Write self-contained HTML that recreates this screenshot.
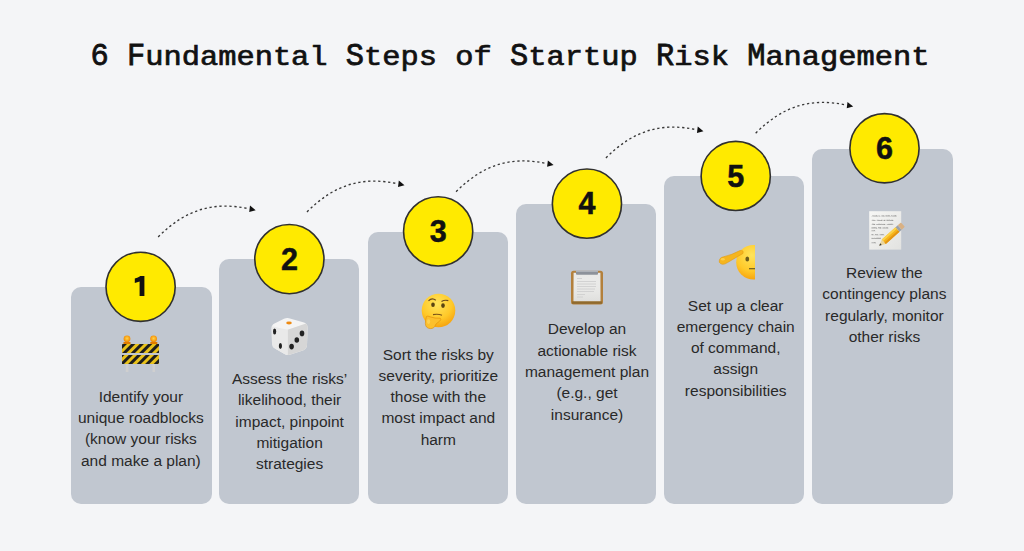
<!DOCTYPE html>
<html><head><meta charset="utf-8">
<style>
html,body{margin:0;padding:0}
body{width:1024px;height:551px;background:#f4f5f7;position:relative;overflow:hidden;font-family:"Liberation Sans",sans-serif}
.title{position:absolute;left:-2px;top:40.5px;width:1024px;text-align:center;font-family:"Liberation Mono",monospace;font-weight:normal;-webkit-text-stroke:0.75px #111;font-size:30.4px;line-height:36px;color:#111;white-space:nowrap;transform:scaleY(0.915);transform-origin:0 0}
.U{display:inline-block;transform:scaleY(1.15);transform-origin:50% 27px}
.card{position:absolute;width:140.3px;background:#c1c7d0;border-radius:10px}
.circ{position:absolute;width:70.8px;height:70.8px;text-align:center;font-weight:bold;font-size:30.5px;line-height:70.6px;color:#111;-webkit-text-stroke:0.5px #111}
.txt{position:absolute;width:160px;text-align:center;font-size:15.5px;line-height:21.33px;color:#292929;letter-spacing:0px;white-space:nowrap}
svg.arr{position:absolute;left:0;top:0;overflow:visible}
</style></head><body>
<div class="title"><span class="U">6</span> <span class="U">F</span>undamental <span class="U">S</span>teps of <span class="U">S</span>tartup <span class="U">R</span>isk <span class="U">M</span>anagement</div>
<div class="card" style="left:71.4px;top:287.0px;height:216.8px"></div>
<div class="card" style="left:219.2px;top:259.4px;height:244.4px"></div>
<div class="card" style="left:367.6px;top:231.9px;height:271.9px"></div>
<div class="card" style="left:515.9px;top:203.8px;height:300.0px"></div>
<div class="card" style="left:664.2px;top:176.3px;height:327.5px"></div>
<div class="card" style="left:812.3px;top:148.8px;height:355.0px"></div>
<svg class="arr" width="1024" height="551" viewBox="0 0 1024 551">
<defs>
<g id="ar">
<path d="M158.2 236.9 C 186.5 208.8, 213.7 201.5, 248.8 208.7" fill="none" stroke="#383838" stroke-width="1.35" stroke-dasharray="2.3 2.7"/>
<path d="M250 205.6 L255.7 210.3 L249.2 211.9 Z" fill="#111"/>
</g>
</defs>
<use href="#ar"/>
<use href="#ar" transform="translate(148.8,-25)"/>
<use href="#ar" transform="translate(297.9,-45.2)"/>
<use href="#ar" transform="translate(447.75,-79)"/>
<use href="#ar" transform="translate(597.5,-103.7)"/>
</svg>
<svg class="arr" width="1024" height="551"><circle cx="140.60" cy="286.80" r="34.6" fill="#ffea00" stroke="#303030" stroke-width="1.6"/><circle cx="289.38" cy="259.09" r="34.6" fill="#ffea00" stroke="#303030" stroke-width="1.6"/><circle cx="438.16" cy="231.38" r="34.6" fill="#ffea00" stroke="#303030" stroke-width="1.6"/><circle cx="586.94" cy="203.67" r="34.6" fill="#ffea00" stroke="#303030" stroke-width="1.6"/><circle cx="735.72" cy="175.96" r="34.6" fill="#ffea00" stroke="#303030" stroke-width="1.6"/><circle cx="884.50" cy="148.25" r="34.6" fill="#ffea00" stroke="#303030" stroke-width="1.6"/></svg>
<div class="circ" style="left:105.20px;top:251.40px"></div>
<div class="circ" style="left:253.98px;top:223.69px">2</div>
<div class="circ" style="left:402.76px;top:195.98px">3</div>
<div class="circ" style="left:551.54px;top:168.27px">4</div>
<div class="circ" style="left:700.32px;top:140.56px">5</div>
<div class="circ" style="left:849.10px;top:112.85px">6</div>
<svg class="arr" width="1024" height="551"><path transform="translate(0,0.5)" d="M144.4 275.4 V295.6 H139.6 V281 C138 281.6 136.5 282 134.8 282.4 V278 C137 277.4 139 276.5 140.3 275.4 Z" fill="#111"/></svg>
<div class="txt" style="left:60.90px;top:385.8px">Identify your<br>unique roadblocks<br>(know your risks<br>and make a plan)</div>
<div class="txt" style="left:209.60px;top:368.1px">Assess the risks’<br>likelihood, their<br>impact, pinpoint<br>mitigation<br>strategies</div>
<div class="txt" style="left:358.30px;top:343.5px">Sort the risks by<br>severity, prioritize<br>those with the<br>most impact and<br>harm</div>
<div class="txt" style="left:507.00px;top:318.3px">Develop an<br>actionable risk<br>management plan<br>(e.g., get<br>insurance)</div>
<div class="txt" style="left:655.70px;top:294.5px">Set up a clear<br>emergency chain<br>of command,<br>assign<br>responsibilities</div>
<div class="txt" style="left:804.40px;top:262.1px">Review the<br>contingency plans<br>regularly, monitor<br>other risks</div>
<svg class="arr" width="1024" height="551" viewBox="0 0 1024 551">
<defs>
<linearGradient id="yel" x1="0" y1="0" x2="0" y2="1"><stop offset="0" stop-color="#ffd23a"/><stop offset="1" stop-color="#f5a800"/></linearGradient>
<radialGradient id="face" cx="0.45" cy="0.3" r="0.75"><stop offset="0" stop-color="#ffe45c"/><stop offset="0.6" stop-color="#ffc929"/><stop offset="1" stop-color="#f59d0a"/></radialGradient>
<radialGradient id="lamp" cx="0.5" cy="0.45" r="0.6"><stop offset="0" stop-color="#ffd34a"/><stop offset="0.55" stop-color="#f9a51a"/><stop offset="1" stop-color="#e57d00"/></radialGradient>
<pattern id="stripe" width="6" height="6" patternUnits="userSpaceOnUse" patternTransform="rotate(45)">
<rect width="6" height="6" fill="#e9c21a"/><rect width="3" height="6" fill="#1e1e1e"/></pattern>
<linearGradient id="paperg" x1="0" y1="0" x2="0" y2="1"><stop offset="0" stop-color="#fff" stop-opacity="0"/><stop offset="1" stop-color="#d8d8d6" stop-opacity="0.6"/></linearGradient>
<clipPath id="halfclip"><rect x="700" y="230" width="55" height="60"/></clipPath>
</defs>
<!-- roadblock -->
<g>
<rect x="125.8" y="362" width="2.6" height="10" fill="#cfcfcf"/>
<rect x="152.5" y="362" width="2.6" height="10" fill="#cfcfcf"/>
<path d="M123.5 342 h7 v2.5 h-7z M150.3 342 h7 v2.5 h-7z" fill="#e07a00"/>
<circle cx="127" cy="338.8" r="3.4" fill="url(#lamp)"/>
<circle cx="153.6" cy="338.8" r="3.4" fill="url(#lamp)"/>
<rect x="122" y="344" width="37" height="9" fill="url(#stripe)"/>
<rect x="122" y="355" width="37" height="9" fill="url(#stripe)"/>
</g>
<!-- dice -->
<g>
<path d="M271.5 328.5 Q271.5 325 274.5 323.6 L284 318.8 Q286.5 317.6 289 318.2 L304 322.6 Q307.5 324 307.6 327.5 L307 345 Q306.8 348.5 303.5 350.2 L290.5 354.6 Q287.5 355.5 284.5 354 L275 348.6 Q272.2 347 272 343.5 Z" fill="#f4f4f4"/>
<path d="M287.5 329.8 L306 323.4 Q307.6 324.8 307.6 327.5 L307 345 Q306.8 348.5 303.5 350.2 L290.5 354.6 Q288.5 355.2 287.5 355 Z" fill="#d6d6d6"/>
<path d="M271.8 326.2 L287.5 329.8 L287.5 355 Q286 355 284.5 354 L275 348.6 Q272.2 347 272 343.5 Z" fill="#e9e9e9"/>
<ellipse cx="289" cy="323" rx="2.8" ry="1.4" fill="#ee8a12"/>
<ellipse cx="274.6" cy="331.5" rx="1.6" ry="2.9" fill="#222"/>
<ellipse cx="280.4" cy="346" rx="1.6" ry="2.9" fill="#222"/>
<ellipse cx="302" cy="333.4" rx="2.3" ry="2.8" fill="#222"/>
<ellipse cx="296.8" cy="340" rx="2.3" ry="2.8" fill="#222"/>
<ellipse cx="291.6" cy="346.6" rx="2.3" ry="2.8" fill="#222"/>
</g>
<!-- thinking -->
<g>
<circle cx="438.5" cy="310.5" r="16.8" fill="url(#face)"/>
<path d="M428.5 300.8 Q432 297.2 435.8 300.2" fill="none" stroke="#6b4a1e" stroke-width="1.2"/>
<path d="M441.5 301.6 Q444.5 299.6 448.3 300.6" fill="none" stroke="#6b4a1e" stroke-width="1.2"/>
<ellipse cx="433" cy="304.8" rx="1.8" ry="2.3" fill="#5a4412"/>
<ellipse cx="443" cy="305.6" rx="1.8" ry="2.3" fill="#5a4412"/>
<path d="M433 314.6 Q438 313.6 442 315.2" fill="none" stroke="#7a5418" stroke-width="1.1"/>
<path d="M426.5 316.5 Q427.5 315.5 430 316.8 Q435 318.6 440.3 318.2 Q441.6 319.6 439.6 321.2 Q437 323 435.6 324.5 Q434.5 328.8 430.2 328.6 Q425.6 328.2 425.4 323.6 Q425.2 320.5 426.5 316.5 Z" fill="#fcc02c" stroke="#e3920c" stroke-width="0.7"/>
<ellipse cx="428.6" cy="321.6" rx="1.6" ry="2.4" fill="#ffdc6a" opacity="0.6"/>
</g>
<!-- clipboard -->
<g>
<rect x="571" y="270.8" width="32" height="33.8" rx="2.5" fill="#b3803c"/>
<rect x="573.6" y="272.8" width="26.8" height="28.6" fill="#e8e8e6"/>
<rect x="573.6" y="272.8" width="26.8" height="28.6" fill="url(#paperg)"/>
<rect x="572" y="301.4" width="30" height="2.4" fill="#8f6a2e"/>
<path d="M576 270.6 h22 v3.2 q0 1 -1 1 h-20 q-1 0 -1 -1z" fill="#8d929a"/>
<rect x="576" y="270.4" width="22" height="1.2" fill="#c4c7cc"/>
<g stroke="#cfcfcf" stroke-width="0.9">
<path d="M577 278.5h5 M577 281.5h19 M577 284h19 M577 286.5h19 M577 289h18 M577 291.5h17 M577 294.5h8 M577 297h6"/>
</g>
</g>
<!-- salute -->
<g clip-path="url(#halfclip)">
<circle cx="753.5" cy="262.3" r="17.3" fill="url(#face)"/>
<ellipse cx="747.3" cy="258.9" rx="1.9" ry="2.5" fill="#6e5d1c"/>
<path d="M749 268.7h7" stroke="#6e5d1c" stroke-width="1.2"/>
</g>
<path d="M719.3 262.3 Q718.8 257.6 723.6 256.8 Q731 255.2 740 250.6 Q743.8 249.6 743 253.4 Q736 257.5 727.5 262.6 Q722 266.2 719.3 262.3 Z" fill="#f5b51e" stroke="#e39a10" stroke-width="0.6"/>
<ellipse cx="722.8" cy="259.2" rx="2" ry="1.2" fill="#ffd860" opacity="0.7"/>
<!-- memo -->
<g>
<defs><linearGradient id="memog" x1="0" y1="0" x2="1" y2="1"><stop offset="0" stop-color="#f7f7f5"/><stop offset="1" stop-color="#e2e2e0"/></linearGradient></defs>
<rect x="869.2" y="211.2" width="32" height="38.4" fill="url(#memog)"/>
<g stroke="#5a5a5a" stroke-width="0.45" fill="none" opacity="0.85"><path d="M872 216.4 Q872.60 214.91 873.20 216.40 Q873.80 214.66 874.40 216.40 Q875.00 214.80 875.60 216.40 Q876.20 214.62 876.80 216.40 Q876.90 214.60 877.00 216.40"/><path d="M878 216.4 Q878.60 215.05 879.20 216.40 Q879.60 215.09 880.00 216.40"/><path d="M881.5 216.4 Q882.10 214.43 882.70 216.40 Q883.30 214.89 883.90 216.40 Q883.95 214.91 884.00 216.40"/><path d="M885.5 216.4 Q886.10 214.30 886.70 216.40 Q887.30 214.72 887.90 216.40 Q888.50 214.43 889.10 216.40 Q889.55 214.72 890.00 216.40"/><path d="M891 216.4 Q891.60 214.59 892.20 216.40 Q892.80 214.98 893.40 216.40 Q894.00 214.59 894.60 216.40 Q895.20 214.41 895.80 216.40 Q895.90 214.68 896.00 216.40"/><path d="M872 220.8 Q872.60 218.91 873.20 220.80 Q873.80 218.96 874.40 220.80 Q874.95 219.45 875.50 220.80"/><path d="M877 220.8 Q877.60 218.89 878.20 220.80 Q878.80 219.03 879.40 220.80 Q880.00 219.26 880.60 220.80 Q881.20 219.48 881.80 220.80 Q881.90 218.81 882.00 220.80"/><path d="M883.5 220.8 Q884.10 219.12 884.70 220.80 Q884.85 218.92 885.00 220.80"/><path d="M886.5 220.8 Q887.10 218.80 887.70 220.80 Q888.30 218.93 888.90 220.80 Q889.50 218.76 890.10 220.80 Q890.70 219.18 891.30 220.80 Q891.90 218.86 892.50 220.80 Q892.75 219.14 893.00 220.80"/><path d="M872 224.8 Q872.60 222.75 873.20 224.80 Q873.80 222.80 874.40 224.80 Q874.45 223.42 874.50 224.80"/><path d="M876 224.8 Q876.60 223.39 877.20 224.80 Q877.80 223.33 878.40 224.80 Q879.00 222.73 879.60 224.80 Q880.20 223.15 880.80 224.80 Q881.40 223.00 882.00 224.80 Q882.60 223.26 883.20 224.80 Q883.80 223.09 884.40 224.80 Q884.70 223.19 885.00 224.80"/><path d="M887 224.8 Q887.60 223.22 888.20 224.80 Q888.80 223.03 889.40 224.80 Q890.00 223.03 890.60 224.80 Q891.20 222.78 891.80 224.80 Q892.40 222.95 893.00 224.80"/><path d="M871.5 228.4 Q872.10 226.36 872.70 228.40 Q873.30 226.41 873.90 228.40 Q874.50 226.31 875.10 228.40 Q875.70 226.56 876.30 228.40 Q876.40 226.97 876.50 228.40"/><path d="M878 228.4 Q878.60 226.41 879.20 228.40 Q879.80 226.33 880.40 228.40 Q880.70 226.38 881.00 228.40"/><path d="M882.5 228.4 Q883.10 226.64 883.70 228.40 Q884.30 226.53 884.90 228.40 Q885.50 226.93 886.10 228.40 Q886.70 226.43 887.30 228.40 Q887.65 226.64 888.00 228.40"/><path d="M871.5 231.2 Q872.10 229.67 872.70 231.20 Q873.30 229.85 873.90 231.20 Q874.45 229.22 875.00 231.20"/><path d="M871.5 235.2 Q872.10 233.11 872.70 235.20 Q873.10 233.83 873.50 235.20"/><path d="M875 235.2 Q875.60 233.26 876.20 235.20 Q876.80 233.57 877.40 235.20 Q877.70 233.78 878.00 235.20"/><path d="M879.5 235.2 Q880.10 233.66 880.70 235.20 Q881.30 233.28 881.90 235.20 Q882.50 233.20 883.10 235.20 Q883.55 233.86 884.00 235.20"/><path d="M871.5 238.8 Q872.10 237.01 872.70 238.80 Q873.30 237.46 873.90 238.80 Q874.50 236.93 875.10 238.80 Q875.70 237.24 876.30 238.80 Q876.90 236.80 877.50 238.80 Q878.10 236.72 878.70 238.80 Q879.30 237.10 879.90 238.80 Q880.20 236.70 880.50 238.80"/><path d="M871.5 243.2 Q872.10 241.65 872.70 243.20 Q873.30 241.84 873.90 243.20 Q874.50 241.42 875.10 243.20 Q875.30 241.87 875.50 243.20"/></g>
<path d="M879.20 245.80 L881.82 239.43 L885.82 243.90 Z" fill="#ead59c"/><path d="M879.20 245.80 L880.19 243.31 L881.79 245.09 Z" fill="#333"/><path d="M881.82 239.43 L895.53 227.16 L899.53 231.64 L885.82 243.90 Z" fill="#f5b41c"/><path d="M881.82 239.43 L895.53 227.16 L896.87 228.65 L883.15 240.92 Z" fill="#fcd24a"/><path d="M884.49 242.41 L898.20 230.15 L899.53 231.64 L885.82 243.90 Z" fill="#e49512"/><path d="M895.53 227.16 L897.77 225.16 L901.77 229.64 L899.53 231.64 Z" fill="#9ba1a9"/><path d="M897.77 225.16 L900.30 222.90 Q900.90 222.36 901.43 222.96 L904.37 226.24 Q904.90 226.84 904.30 227.37 L901.77 229.64 Z" fill="#d9b184"/>
</g>
</svg>
</body></html>
